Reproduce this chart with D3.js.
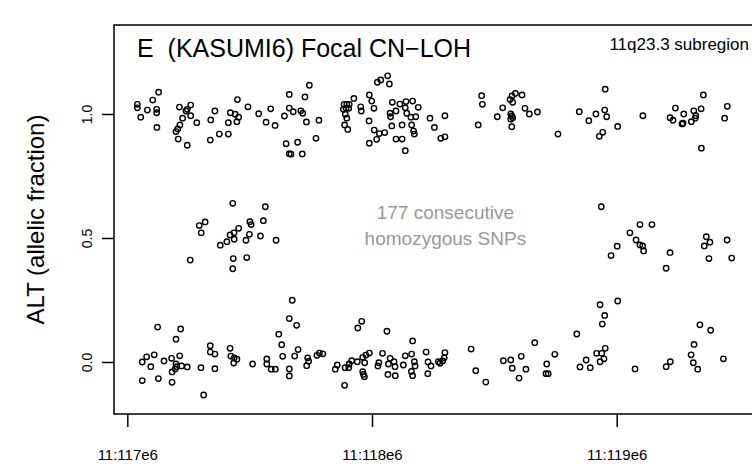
<!DOCTYPE html>
<html>
<head>
<meta charset="utf-8">
<script src="https://cdn.jsdelivr.net/npm/d3@7"></script>
<style>
  html, body { margin: 0; padding: 0; background: #fff; }
  svg { display: block; font-family: "Liberation Sans", Arial, Helvetica, sans-serif; }
</style>
</head>
<body>
<svg id="chart" width="752" height="464"></svg>
<script>
// ---- data (position in Mb on chr11, ALT allelic fraction) ----
const topPos = [117.041,117.041,117.055,117.082,117.104,117.128,117.120,117.120,117.121,117.213,117.259,117.240,117.245,117.259,117.226,117.215,117.206,117.199,117.208,117.245,117.284,117.341,117.358,117.339,117.376,117.413,117.413,117.421,117.441,117.455,117.448,117.450,117.493,117.537,117.567,117.586,117.604,117.642,117.662,117.662,117.678,117.709,117.717,117.726,117.744,117.732,117.783,117.771,117.649,117.696,117.662,117.669,117.715,
117.886,117.897,117.907,117.883,117.894,117.905,117.891,117.897,117.888,117.901,117.926,117.954,117.956,117.988,117.989,117.999,118.008,118.022,118.036,118.064,118.071,118.083,118.114,118.139,118.166,118.136,118.098,118.074,118.076,118.142,118.159,118.179,118.189,118.009,118.030,118.052,118.081,118.123,118.162,118.170,118.173,117.989,118.019,118.098,118.123,118.136,118.237,118.255,118.298,118.281,118.298,118.448,118.451,118.434,118.512,118.534,118.564,118.572,118.586,118.613,118.575,118.567,118.571,118.575,118.567,118.571,118.625,118.643,118.676,
118.760,118.847,118.886,118.915,118.951,118.959,118.953,119.004,118.943,118.929,119.107,119.218,119.230,119.240,119.274,119.267,119.271,119.305,119.315,119.323,119.321,119.345,119.354,119.346,119.452,119.441];
const topAlt = [1.039,1.025,0.987,1.016,1.056,1.088,1.019,1.005,0.946,1.028,1.036,1.012,1.019,0.993,0.983,0.956,0.940,0.929,0.899,0.874,0.965,0.976,1.012,0.895,0.919,0.919,0.965,1.005,0.999,0.987,0.969,1.058,1.029,1.001,0.967,1.021,0.954,0.992,1.079,1.024,1.009,1.013,1.003,1.069,1.116,0.968,0.975,0.902,0.880,0.886,0.840,0.838,0.839,
1.039,1.039,1.039,1.019,1.023,1.023,0.999,0.983,0.956,0.938,1.063,1.029,1.012,0.972,1.077,1.052,1.023,1.128,1.137,1.154,1.121,1.047,1.040,1.050,1.052,1.025,1.012,1.003,0.989,1.003,0.987,0.989,1.027,0.935,0.921,0.925,0.952,0.956,0.956,0.931,0.919,0.882,0.898,0.899,0.899,0.852,0.983,0.946,0.993,0.902,0.908,1.074,1.039,0.956,0.989,1.025,1.058,1.073,1.083,1.077,1.047,1.000,0.992,0.985,0.979,0.949,1.023,1.000,1.008,
0.919,1.009,0.973,1.000,1.016,0.989,1.100,0.950,0.926,0.910,0.993,0.985,0.975,1.024,1.000,0.960,0.963,0.969,1.013,0.993,0.983,1.021,1.077,0.862,1.031,0.983];

const midPos = [117.431,117.564,117.318,117.294,117.302,117.501,117.506,117.556,117.455,117.436,117.420,117.437,117.499,117.544,117.608,117.485,117.407,117.380,117.257,117.433,117.488,117.431,
118.937,118.977,119.002,119.054,119.079,119.095,119.095,119.106,119.110,119.144,119.202,119.218,119.358,119.366,119.377,119.381,119.451,119.470];
const midAlt = [0.640,0.626,0.565,0.550,0.521,0.566,0.554,0.570,0.539,0.521,0.512,0.495,0.515,0.508,0.491,0.491,0.485,0.471,0.411,0.417,0.421,0.376,
0.626,0.429,0.467,0.521,0.492,0.554,0.472,0.468,0.448,0.554,0.378,0.441,0.468,0.505,0.417,0.483,0.492,0.419];

const lowPos = [117.124,117.218,117.199,117.061,117.079,117.110,117.096,117.150,117.181,117.214,117.199,117.202,117.196,117.222,117.245,117.183,117.061,117.127,117.183,117.301,117.312,117.339,117.339,117.358,117.358,117.420,117.423,117.437,117.448,117.435,117.512,117.570,117.570,117.588,117.605,117.674,117.662,117.692,117.619,117.631,117.698,117.635,117.684,117.662,117.662,117.737,117.741,117.733,117.775,117.785,117.799,
117.958,117.942,118.061,118.166,117.989,117.975,117.962,117.940,117.917,117.907,117.858,117.890,117.850,117.905,117.970,117.962,117.965,117.969,117.888,118.043,118.028,118.024,118.074,118.067,118.090,118.094,118.065,118.095,118.128,118.136,118.162,118.173,118.176,118.161,118.166,118.221,118.229,118.241,118.228,118.271,118.278,118.289,118.298,118.295,118.405,118.424,118.465,118.537,118.567,118.610,118.573,118.629,118.601,118.665,
118.714,118.711,118.720,118.747,118.837,118.850,118.875,118.892,118.918,118.939,118.953,118.948,118.932,118.941,118.951,118.932,119.004,119.075,119.202,119.219,119.340,119.384,119.316,119.304,119.313,119.331,119.436];
const lowAlt = [0.141,0.133,0.092,0.000,0.021,0.029,-0.019,0.004,0.015,0.025,-0.008,-0.019,-0.028,-0.016,-0.020,-0.040,-0.075,-0.067,-0.082,-0.023,-0.133,0.066,0.040,0.032,-0.027,0.055,0.024,0.017,0.011,-0.004,-0.008,0.012,-0.008,-0.029,-0.029,0.249,0.175,0.148,0.112,0.070,0.050,0.023,0.024,-0.028,-0.056,0.017,0.003,-0.015,0.027,0.036,0.033,
0.164,0.137,0.124,0.085,0.036,0.028,0.019,0.001,0.005,-0.008,-0.012,-0.023,-0.029,-0.023,-0.003,-0.039,-0.050,-0.059,-0.094,0.035,-0.003,-0.016,0.015,-0.008,0.001,-0.019,-0.050,-0.055,-0.012,0.025,0.032,0.001,-0.016,-0.038,-0.055,0.040,0.000,-0.016,-0.047,0.001,-0.005,0.004,0.038,0.017,0.052,-0.035,-0.081,0.005,0.008,0.023,-0.025,-0.029,-0.065,0.078,
-0.008,-0.047,-0.047,0.031,0.113,-0.020,0.008,-0.023,0.035,0.035,0.055,0.013,0.001,0.153,0.188,0.231,0.246,-0.028,-0.019,0.001,0.150,0.128,0.071,0.029,-0.003,-0.029,0.013];

const xTicks = [117, 118, 119];
const yTicks = [0, 0.5, 1.0];
const titleText = "E  (KASUMI6) Focal CN\u2212LOH";
const subregionText = "11q23.3 subregion";
const noteLines = ["177 consecutive", "homozygous SNPs"];
const yLabel = "ALT (allelic fraction)";

// ---- layout ----
const svg = d3.select("#chart");
const box = { left: 114, top: 25, bottom: 414, right: 770 };

const x = d3.scaleLinear().domain([117, 119]).range([127.3, 616.7]);
const y = d3.scaleLinear().domain([0, 1]).range([362, 114]);

// frame (right side lies outside the window)
svg.append("rect")
  .attr("x", box.left).attr("y", box.top)
  .attr("width", box.right - box.left).attr("height", box.bottom - box.top)
  .attr("fill", "none").attr("stroke", "#000").attr("stroke-width", 1.5);

// points
const pts = [];
topPos.forEach((p, i) => pts.push([p, topAlt[i]]));
midPos.forEach((p, i) => pts.push([p, midAlt[i]]));
lowPos.forEach((p, i) => pts.push([p, lowAlt[i]]));

svg.append("g").selectAll("circle").data(pts).join("circle")
  .attr("cx", d => x(d[0])).attr("cy", d => y(d[1]))
  .attr("r", 2.7)
  .attr("fill", "none").attr("stroke", "#000").attr("stroke-width", 1.4);

// x axis
const xAxis = svg.append("g").attr("transform", `translate(0,${box.bottom})`)
  .call(d3.axisBottom(x).tickValues(xTicks).tickSize(13).tickPadding(22)
        .tickFormat(d => "11:" + d + "e6"));
xAxis.select(".domain").remove();
xAxis.selectAll("line").attr("stroke-width", 1.5);
xAxis.selectAll("text").attr("font-size", 15).attr("font-family", "Liberation Sans, Arial, sans-serif").attr("fill", "#000");

// y axis
const yAxis = svg.append("g").attr("transform", `translate(${box.left},0)`)
  .call(d3.axisLeft(y).tickValues(yTicks).tickSize(12).tickFormat(d3.format(".1f")));
yAxis.select(".domain").remove();
yAxis.selectAll("line").attr("stroke-width", 1.5);
yAxis.selectAll("text").remove();
yAxis.selectAll(".tick").append("text")
  .attr("transform", "translate(-27,0) rotate(-90)")
  .attr("text-anchor", "middle").attr("dy", "0.35em")
  .attr("font-size", 14).attr("fill", "#000")
  .text(d => d3.format(".1f")(d));

// y label
svg.append("text")
  .attr("transform", `translate(44,${(box.top + box.bottom) / 2}) rotate(-90)`)
  .attr("text-anchor", "middle")
  .attr("font-size", 24).attr("fill", "#000")
  .text(yLabel);

// title
svg.append("text").attr("x", 137).attr("y", 57)
  .attr("font-size", 25).attr("fill", "#000").style("white-space", "pre")
  .text(titleText);

svg.append("text").attr("x", 749).attr("y", 50)
  .attr("text-anchor", "end")
  .attr("font-size", 17).attr("fill", "#000")
  .text(subregionText);

// annotation
svg.append("g").selectAll("text").data(noteLines).join("text")
  .attr("x", x(118.3)).attr("y", (d, i) => 219 + i * 26)
  .attr("text-anchor", "middle")
  .attr("font-size", 19).attr("fill", "#999")
  .text(d => d);
</script>
</body>
</html>
